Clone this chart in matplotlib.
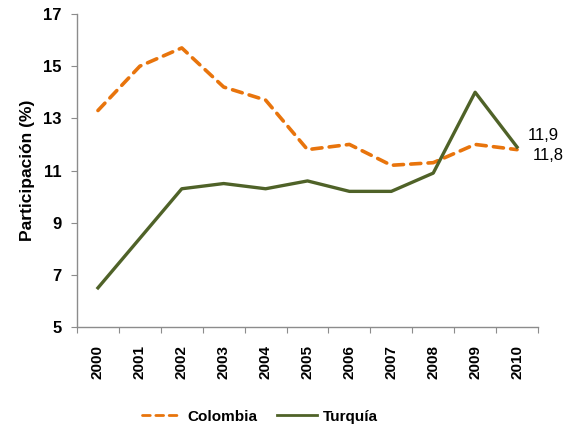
import numpy as np
import matplotlib
matplotlib.use('Agg')
import matplotlib.pyplot as plt

# Data
years = ['2000', '2001', '2002', '2003', '2004', '2005',
         '2006', '2007', '2008', '2009', '2010']
colombia = [13.3, 15.0, 15.7, 14.2, 13.7, 11.8, 12.0, 11.2, 11.3, 12.0, 11.8]
turquia = [6.5, 8.4, 10.3, 10.5, 10.3, 10.6, 10.2, 10.2, 10.9, 14.0, 11.9]
y_ticks = [5, 7, 9, 11, 13, 15, 17]

ORANGE = '#E8740C'
GREEN = '#4F6228'
GRAY = '#8C8C8C'

plt.rcParams['font.family'] = ['Liberation Sans', 'DejaVu Sans']

fig = plt.figure(figsize=(5.7, 4.26), dpi=100)
ax = fig.add_axes([77 / 570, 99 / 426, 461 / 570, 313 / 426])

x = np.arange(len(years))
ax.plot(x, colombia, color=ORANGE, lw=2.6, ls=(0, (2.8, 2.0)), dash_capstyle='round',
        label='Colombia')
ax.plot(x, turquia, color=GREEN, lw=2.4, label='Turquía')

# Value labels for the last year
ax.annotate('11,9', (x[-1], turquia[-1]), xytext=(8, 8), textcoords='offset points',
            fontsize=12, va='center', ha='left')
ax.annotate('11,8', (x[-1], colombia[-1]), xytext=(11.5, -4), textcoords='offset points',
            fontsize=12, va='center', ha='left')

ax.set_xlim(-0.5, len(years) - 0.5)
ax.set_ylim(5, 17)
ax.set_yticks(y_ticks)
ax.set_yticklabels([str(v) for v in y_ticks], fontsize=12, fontweight='bold')

# tick marks at category boundaries, labels at centers
ax.set_xticks(np.arange(-0.5, len(years), 1))
ax.set_xticklabels([])
ax.set_xticks(x, minor=True)
ax.set_xticklabels(years, minor=True, rotation=90, fontsize=11, fontweight='bold')
ax.tick_params(axis='x', which='minor', length=0, pad=13)
ax.tick_params(axis='x', which='major', length=4, color=GRAY)
ax.tick_params(axis='y', length=4, color=GRAY, pad=7)

for side in ['top', 'right']:
    ax.spines[side].set_visible(False)
for side in ['left', 'bottom']:
    ax.spines[side].set_color(GRAY)
    ax.spines[side].set_linewidth(1)

ax.set_ylabel('Participación (%)', fontsize=12.5, fontweight='bold', labelpad=6)

leg = fig.legend(loc='center', bbox_to_anchor=(0.456, 0.022), ncol=2, frameon=False,
                 prop={'size': 11, 'weight': 'bold'}, handlelength=2.6,
                 columnspacing=1.3, handletextpad=0.35)
for line in leg.get_lines():
    line.set_linewidth(2)

fig.savefig('out.png', dpi=100)
